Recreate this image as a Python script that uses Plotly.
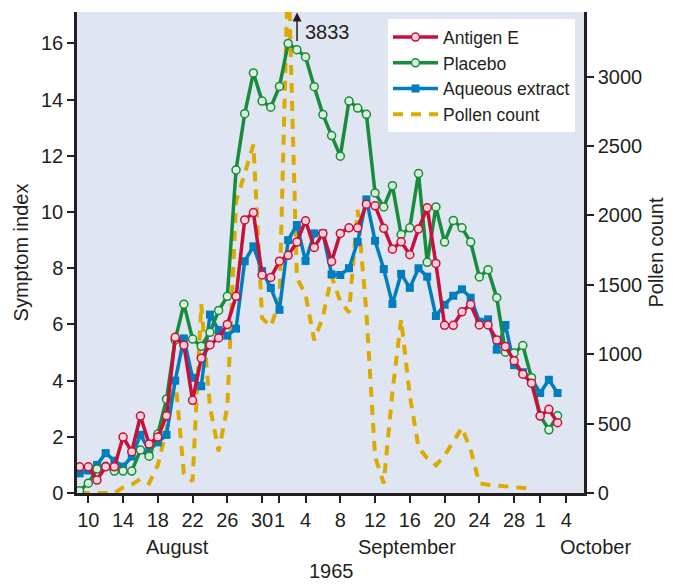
import plotly.graph_objects as go
import pandas as pd

# ---------------- data ----------------
start_date = "1965-08-09"

antigen_e = [0.93, 0.93, 0.46, 0.93, 0.93, 1.99, 1.47, 2.74, 1.74, 1.99, 2.75, 5.54, 5.26, 3.30,
             4.80, 5.27, 5.52, 6.00, 7.00, 9.72, 9.98, 7.76, 7.67, 8.25, 8.46, 8.93, 9.69, 8.74,
             9.24, 8.24, 9.24, 9.44, 9.44, 10.28, 10.22, 9.42, 8.68, 8.94, 8.48, 9.40, 10.15, 8.17,
             5.97, 5.97, 6.45, 6.71, 5.98, 5.98, 5.45, 5.21, 4.71, 4.23, 3.91, 2.74, 2.98, 2.50]

placebo = [0.08, 0.35, 0.85, 0.95, 0.78, 0.78, 0.78, 1.53, 1.31, 2.10, 3.34, 5.45, 6.72, 5.48,
           5.22, 5.72, 6.50, 7.00, 11.50, 13.50, 14.95, 13.95, 13.73, 14.47, 16.00, 15.78, 15.52, 14.46,
           13.47, 12.72, 11.99, 13.95, 13.70, 13.48, 10.68, 10.18, 10.94, 9.20, 9.44, 11.37, 8.21, 10.18,
           8.93, 9.70, 9.44, 8.93, 7.69, 7.95, 6.95, 5.01, 4.98, 5.25, 4.10, 2.75, 2.25, 2.75]

aqueous = [0.70, 0.80, 1.00, 1.42, 1.15, 0.94, 1.30, 2.07, 1.53, 1.80, 2.07, 4.00, 5.50, 4.10,
           3.80, 6.35, 5.80, 5.60, 5.85, 8.25, 8.78, 7.90, 7.30, 6.52, 9.00, 9.54, 8.26, 9.24,
           9.24, 7.78, 7.76, 8.00, 8.94, 10.45, 8.98, 7.97, 6.73, 7.80, 7.30, 8.00, 7.70, 6.30,
           6.70, 7.02, 7.25, 6.95, 6.10, 6.18, 5.10, 5.98, 4.55, 4.30, 4.07, 3.56, 4.03, 3.56]

pollen = [0, 0, 5, 0, 0, 40, 60, 100, 70, 200, 460, 830, 140, 85, 1360, 620, 300, 620, 2100,
          2300, 2510, 1260, 1200,
          1380, 3833, 1550, 1430, 1100, 1270, 1560, 1380, 1300, 2040, 1300, 260, 70, 730, 1250,
          700, 330, 250, 200, 270, 370, 470, 310, 70, 60, 55, 50, 40, 35, 30]

tick_dates = ["1965-08-10", "1965-08-14", "1965-08-18", "1965-08-22", "1965-08-26", "1965-08-30",
              "1965-09-01", "1965-09-04", "1965-09-08", "1965-09-12", "1965-09-16", "1965-09-20",
              "1965-09-24", "1965-09-28", "1965-10-01", "1965-10-04"]
tick_text = ["10", "14", "18", "22", "26", "30", "1", "4", "8", "12", "16", "20", "24", "28", "1", "4"]

y_ticks = [0, 2, 4, 6, 8, 10, 12, 14, 16]
pollen_ticks = [0, 500, 1000, 1500, 2000, 2500, 3000]

month_labels = ["August", "September", "October"]
year_label = "1965"
peak_label = "3833"

# ---------------- styling ----------------
FONT = "Liberation Sans, Arial, Helvetica, sans-serif"
INK = "#231f20"
RED = "#c8103c"
GREEN = "#178c3c"
BLUE = "#007dbe"
GOLD = "#dcaa00"
BG = "#dfe6f2"

dates_sym = pd.date_range(start_date, periods=len(antigen_e), freq="D")
dates_pol = pd.date_range(start_date, periods=len(pollen), freq="D")

fig = go.Figure()

fig.add_trace(go.Scatter(
    x=dates_pol, y=pollen, name="Pollen count", mode="lines",
    line=dict(color=GOLD, width=4, dash="10px,8px"), yaxis="y"))

fig.add_trace(go.Scatter(
    x=dates_sym, y=aqueous, name="Aqueous extract", mode="lines+markers",
    line=dict(color=BLUE, width=3.5),
    marker=dict(symbol="square", size=8, color=BLUE, line=dict(width=0)), yaxis="y2"))

fig.add_trace(go.Scatter(
    x=dates_sym, y=placebo, name="Placebo", mode="lines+markers",
    line=dict(color=GREEN, width=3.5),
    marker=dict(symbol="circle", size=8, color="#dcf0dc", line=dict(color=GREEN, width=1.5)),
    yaxis="y2"))

fig.add_trace(go.Scatter(
    x=dates_sym, y=antigen_e, name="Antigen E", mode="lines+markers",
    line=dict(color=RED, width=3.5),
    marker=dict(symbol="circle", size=8, color="#fbd0d6", line=dict(color=RED, width=1.5)),
    yaxis="y2"))

axis_common = dict(showgrid=False, zeroline=False, showline=True, linecolor=INK, linewidth=2.5,
                   ticks="outside", ticklen=7, tickwidth=1.5, tickcolor=INK, automargin=False,
                   tickfont=dict(family=FONT, size=20, color=INK))

# the page body adds an 8px offset, so the figure is 8px smaller than the window
fig.update_layout(
    width=665, height=577,
    margin=dict(l=69, r=89, t=4, b=92, autoexpand=False),
    paper_bgcolor="white", plot_bgcolor=BG,
    font=dict(family=FONT, size=20, color=INK),
    showlegend=True,
    legend=dict(x=0.6134, y=0.985, xanchor="left", yanchor="top",
                bgcolor="white", borderwidth=0, traceorder="reversed",
                font=dict(family=FONT, size=17.5, color=INK), itemwidth=45,
                tracegroupgap=0),
    xaxis=dict(type="date", range=["1965-08-08 16:48", "1965-10-06 01:00"],
               tickmode="array", tickvals=tick_dates, ticktext=tick_text, tickangle=0,
               **axis_common),
    yaxis=dict(side="right", range=[0, 3465], tickmode="array", tickvals=pollen_ticks,
               title=dict(text="Pollen count", font=dict(family=FONT, size=20, color=INK),
                          standoff=8),
               **axis_common),
    yaxis2=dict(side="left", overlaying="y", range=[0, 17.12], tickmode="array",
                tickvals=y_ticks,
                title=dict(text="Symptom index", font=dict(family=FONT, size=20, color=INK),
                           standoff=8),
                **axis_common),
)

# month labels and year
month_x = [0.198, 0.650, 1.0217]
for lbl, mx in zip(month_labels, month_x):
    fig.add_annotation(text=lbl, xref="paper", yref="paper", x=mx, y=-0.1123,
                       xanchor="center", yanchor="middle", showarrow=False,
                       font=dict(family=FONT, size=20, color=INK))
fig.add_annotation(text=year_label, xref="paper", yref="paper", x=0.501, y=-0.1625,
                   xanchor="center", yanchor="middle", showarrow=False,
                   font=dict(family=FONT, size=20, color=INK))

# off-scale pollen peak marker
fig.add_annotation(text="", xref="paper", yref="paper", x=0.434, y=0.999,
                   showarrow=True, ax=0, ay=30, arrowhead=2, arrowsize=1.2,
                   arrowwidth=1.5, arrowcolor=INK)
fig.add_annotation(text=peak_label, xref="paper", yref="paper", x=0.4458, y=0.958,
                   xanchor="left", yanchor="middle", showarrow=False,
                   font=dict(family=FONT, size=20, color=INK))

fig.write_html("out.html")
